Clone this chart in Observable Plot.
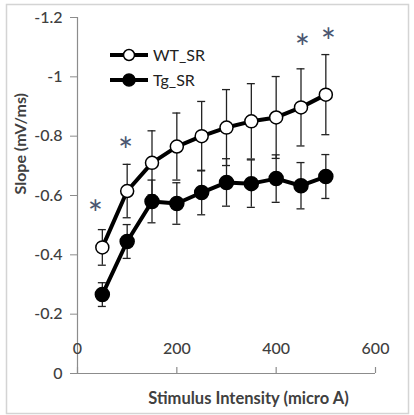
<!DOCTYPE html>
<html>
<head>
<meta charset="utf-8">
<script src="https://cdn.jsdelivr.net/npm/d3@7"></script>
<script src="https://cdn.jsdelivr.net/npm/@observablehq/plot@0.6"></script>
<style>
  html, body { margin: 0; padding: 0; background: #fff; }
  #wrap { position: relative; width: 414px; height: 415px; font-family: Lato, "Open Sans", sans-serif; }
  #legend { position: absolute; left: 108px; top: 42px; font-size: 16px; color: #222; }
  #legend .row { display: flex; align-items: center; height: 25px; }
  #legend svg { display: block; margin-right: 3px; }
</style>
</head>
<body>
<div id="wrap"><div id="legend"></div></div>
<script>
// Stimulus intensities (micro A)
const stimulus = [50, 100, 150, 200, 250, 300, 350, 400, 450, 500];
// WT_SR slope means and error bars (mV/ms)
const wtMean = [-0.425, -0.615, -0.71, -0.765, -0.80, -0.829, -0.85, -0.863, -0.897, -0.94];
const wtErr  = [0.06, 0.09, 0.108, 0.113, 0.117, 0.128, 0.127, 0.138, 0.13, 0.135];
// Tg_SR slope means and error bars (mV/ms)
const tgMean = [-0.266, -0.445, -0.58, -0.573, -0.61, -0.644, -0.64, -0.657, -0.633, -0.664];
const tgErr  = [0.04, 0.057, 0.072, 0.07, 0.075, 0.08, 0.08, 0.08, 0.078, 0.074];
// significance markers (*)
const sigX = [36, 97, 453, 505];
const sigY = [-0.563, -0.775, -1.122, -1.143];
// ticks
const xTicks = [0, 200, 400, 600];
const yTicks = [0, -0.2, -0.4, -0.6, -0.8, -1, -1.2];
const seriesNames = ["WT_SR", "Tg_SR"];

const rows = [];
stimulus.forEach((x, i) => {
  rows.push({series: "WT_SR", x, y: wtMean[i], lo: wtMean[i] + wtErr[i], hi: wtMean[i] - wtErr[i]});
});
stimulus.forEach((x, i) => {
  rows.push({series: "Tg_SR", x, y: tgMean[i], lo: tgMean[i] + tgErr[i], hi: tgMean[i] - tgErr[i]});
});
const wt = rows.filter(d => d.series === "WT_SR");
const tg = rows.filter(d => d.series === "Tg_SR");
const sig = sigX.map((x, i) => ({x, y: sigY[i]}));

const axisGray = "#8c8c8c";
const textGray = "#404040";

const chart = Plot.plot({
  width: 414,
  height: 415,
  marginLeft: 77,
  marginRight: 39,
  marginTop: 17,
  marginBottom: 42,
  style: {fontFamily: "Lato, 'Open Sans', sans-serif", color: textGray, background: "#fff"},
  x: {domain: [0, 600], axis: null},
  y: {domain: [0, -1.2], axis: null},
  marks: [
    Plot.frame({insetLeft: -71, insetTop: -13, insetRight: -33, insetBottom: -40, stroke: "#d4d4d4", strokeWidth: 1.5}),
    Plot.ruleX([0], {stroke: axisGray, strokeWidth: 1.2}),
    Plot.ruleY([0], {stroke: axisGray, strokeWidth: 1.2}),
    Plot.axisY(yTicks, {anchor: "left", tickSize: 7, tickPadding: 8, stroke: axisGray, fontSize: 16, fontWeight: 500, tickFormat: d => String(d), label: null}),
    Plot.ruleX(xTicks, {x: d => d, y1: () => 0, y2: () => 0, insetTop: -6, stroke: axisGray, strokeWidth: 1.2}),
    Plot.text(xTicks, {x: d => d, y: () => 0, dy: -25, text: d => String(d), fontSize: 16, fontWeight: 500, fill: textGray}),
    Plot.text(["Stimulus Intensity (micro A)"], {frameAnchor: "bottom", dx: 22, dy: 25, lineAnchor: "middle", fontSize: 16.5, fontWeight: "bold", fill: textGray}),
    Plot.text(["Slope (mV/ms)"], {frameAnchor: "left", rotate: -90, dx: -57, dy: -1, fontSize: 16, fontWeight: "bold", fill: textGray}),
    // error bars
    Plot.ruleX(rows, {x: "x", y1: "lo", y2: "hi", stroke: "#222", strokeWidth: 1.3}),
    Plot.ruleY(rows, {y: "lo", x1: "x", x2: "x", insetLeft: -4, insetRight: -4, stroke: "#222", strokeWidth: 1.3}),
    Plot.ruleY(rows, {y: "hi", x1: "x", x2: "x", insetLeft: -4, insetRight: -4, stroke: "#222", strokeWidth: 1.3}),
    // lines
    Plot.line(tg, {x: "x", y: "y", stroke: "#000", strokeWidth: 4}),
    Plot.line(wt, {x: "x", y: "y", stroke: "#000", strokeWidth: 4}),
    Plot.dot(tg, {x: "x", y: "y", r: 7, fill: "#000", stroke: "#000"}),
    Plot.dot(wt, {x: "x", y: "y", r: 6.5, fill: "#fff", stroke: "#000", strokeWidth: 1.5}),
    // significance
    Plot.text(sig, {x: "x", y: "y", text: () => "*", fontSize: 36, dy: 9, fill: "#4a5670"})
  ]
});
document.getElementById("wrap").prepend(chart);
chart.style.display = "block";

// legend
const legend = document.getElementById("legend");
seriesNames.forEach(name => {
  const row = document.createElement("div");
  row.className = "row";
  const filled = name === "Tg_SR";
  row.innerHTML = `<svg width="42" height="16"><line x1="2" y1="8" x2="40" y2="8" stroke="#000" stroke-width="4"/>` +
    `<circle cx="21" cy="8" r="${filled ? 6 : 5.5}" fill="${filled ? "#000" : "#fff"}" stroke="#000" stroke-width="1.5"/></svg><span>${name}</span>`;
  legend.appendChild(row);
});
</script>
</body>
</html>
